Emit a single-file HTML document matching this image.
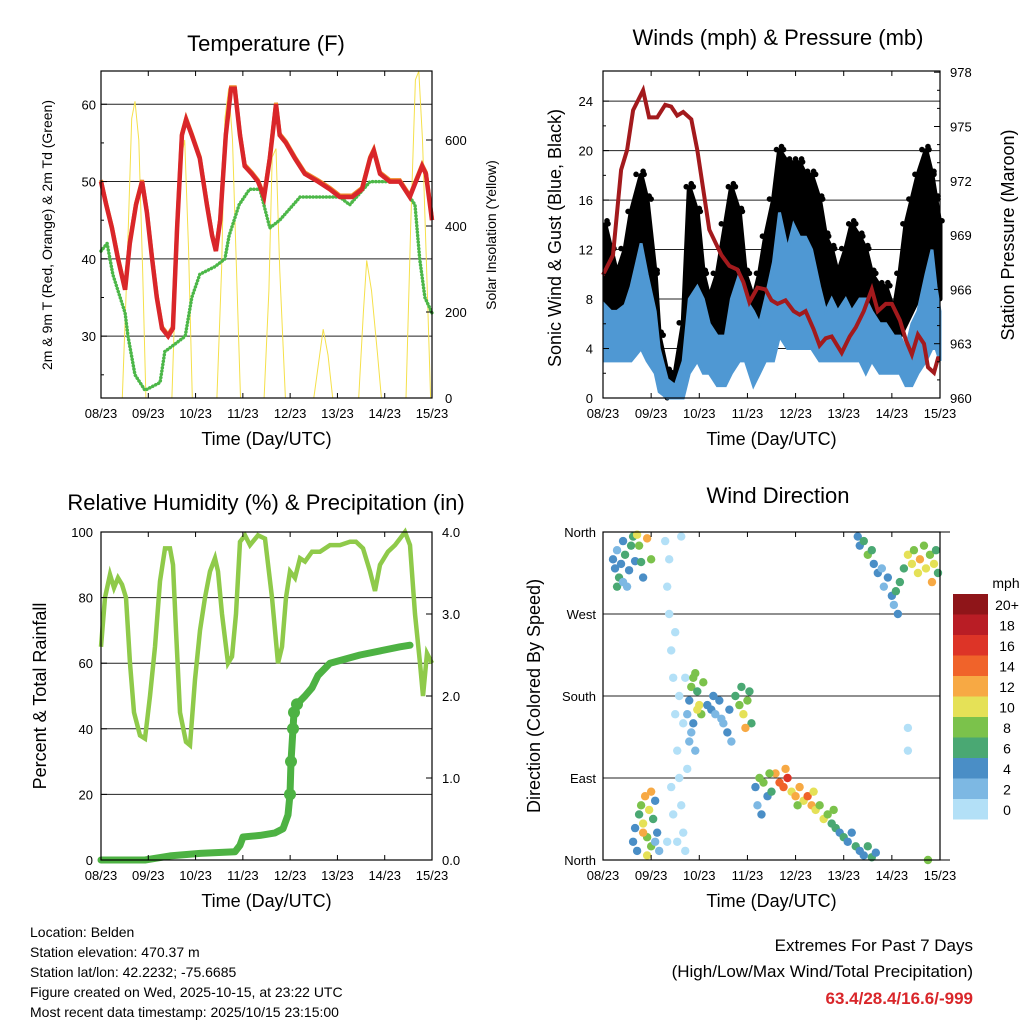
<!DOCTYPE html>
<html><head><meta charset="utf-8"><style>
body{margin:0;background:#fff;width:1024px;height:1024px;overflow:hidden;font-family:"Liberation Sans",sans-serif}
svg text{font-family:"Liberation Sans",sans-serif}
</style></head><body>
<svg id="c" width="1024" height="1024" xmlns="http://www.w3.org/2000/svg"></svg>
<script>
// ---- Temperature data (days since 08/23, value) ----
const tDays=[0,.11,.23,.36,.51,.61,.74,.87,.97,1.08,1.18,1.29,1.42,1.52,1.61,1.71,1.8,1.92,2.09,2.24,2.35,2.43,2.52,2.64,2.75,2.83,2.94,3.04,3.19,3.32,3.45,3.57,3.7,3.78,3.91,4.1,4.31,4.59,4.84,5.05,5.31,5.52,5.69,5.77,5.9,6.11,6.32,6.53,6.66,6.79,6.87,7];
const tempRed=[50,47,44,40,36,42,47,50,46,40,35,31,30,31,44,56,58,56,53,47,43,41,45,56,62,62,56,52,51,50,48,53,60,56,55,53,51,50,49,48,48,49,53,54,51,50,50,48,50,52,51,45];
const tdDays=[0,.13,.25,.51,.57,.72,.93,1.25,1.35,1.57,1.78,1.92,2.09,2.41,2.62,2.71,2.92,3.14,3.36,3.57,3.78,4.21,4.63,5.05,5.26,5.69,6.32,6.53,6.64,6.74,6.85,7];
const tempTd=[41,42,38,33,30,25,23,24,28,29,30,35,38,39,40,43,47,49,49,44,45,48,48,48,47,50,50,48,47,40,35,33];
const solarDays=[0,.45,.55,.65,.72,.8,.88,.95,1.5,1.6,1.7,1.77,1.85,1.93,2.45,2.55,2.62,2.7,2.78,2.85,2.95,3.45,3.55,3.62,3.7,3.78,3.9,4.5,4.6,4.7,4.8,4.9,5.45,5.55,5.62,5.72,5.85,5.93,6.45,6.55,6.65,6.72,6.8,6.9,6.97,7];
const solarVals=[0,0,300,650,690,600,300,0,0,350,560,600,350,0,0,300,650,720,600,350,0,0,250,560,580,300,0,0,80,160,100,0,0,200,320,250,100,0,0,400,740,760,600,250,0,0];
const tempTicks=[30,40,50,60];
const solarTicks=[0,200,400,600];
const dayLabels=["08/23","09/23","10/23","11/23","12/23","13/23","14/23","15/23"];
// ---- Winds (hours) ----
const windHours=[1,4,7,11,14,19,22,26,28,32,36,40,43,47,50,53,57,61,64,68,71,75,78,81,85,88,92,95,98,101,104,108,111,114,117,121,124,128,131,134,138,141,145,148,151,154,157,161,164,166,168];
const sonicLow=[3,3,3,3,3,4,3,2,.5,0,0,0,2,3,2,2,1,1,2,3,3,1,2,3,3,5,4,4,4,4,4,3,3,3,3,3,3,3,2,3,2,2,2,2,1,1,2,3,4,4,3];
const sonicHigh=[7.5,7,7,7.5,9,12.5,10,7,4,1.5,1,3,8,9,8,6,5,5,8,10,8,7,6,8,11,15,12,14,13,13,12,9,7,8,7,8,7,8,8,7,6,6,5,5,4,6,7,10,12,9,7];
const gustLow=[6,5,5,6,7,9,7,4,1,0,1,2,6,5,4,3,4,5,6,5,4,3,4,5,7,9,9,9,9,8,8,8,7,6,5,6,6,7,5,5,4,3,4,5,6,7,8,9,8,8,8];
const gustHigh=[14,12,10,12,15,18,16,10,5,2,2,6,17,15,10,8,10,14,17,15,10,8,10,13,16,20,19,19,19,18,18,16,13,12,10,12,14,13,12,10,9,9,7,10,14,16,18,20,18,16,14];
const presHours=[5,9,12,15,20,23,27,31,34,37,40,44,47,50,53,59,63,67,70,73,77,81,84,87,91,95,98,101,105,108,111,114,119,123,126,130,134,137,141,144,148,151,154,157,160,162,165,167,168];
const pressure=[967.9,972.6,973.7,975.9,977,975.5,975.5,976.2,976.1,975.6,975.8,975.4,973.7,971.5,969.3,967.9,967.3,967.1,966.4,965.3,966.1,966,965.4,965.2,965.4,964.8,964.6,964.8,963.8,962.9,963.3,963.4,962.5,963.4,963.9,964.8,966,964.8,965.2,965.2,964.3,963.2,962.4,963.5,963,961.7,961.4,962.2,962.2];
const windTicks=[0,4,8,12,16,20,24];
const presTicks=[960,963,966,969,972,975,978];
// ---- RH / precip ----
const rhX=[101,105,110,114,118,122,126,130,134,140,145,150,155,160,165,170,173,176,180,186,190,195,200,205,210,215,218,222,228,232,236,240,245,250,258,265,272,278,282,286,290,295,300,305,312,320,330,340,350,356,363,370,375,380,388,395,400,405,410,415,420,423,427,432];
const rhVals=[65,80,87,83,86,84,80,60,45,38,37,50,65,85,95,95,90,70,45,36,35,55,70,80,88,92,88,75,60,62,75,97,99,96,99,98,80,60,65,80,88,86,92,91,94,94,96,96,97,97,95,88,82,90,94,96,98,100,96,75,60,50,63,60];
const precipX=[101,120,145,170,200,235,240,243,260,275,283,288,290,291,293,294,297,305,312,318,330,345,360,380,400,410];
const precipVals=[0,0,0,.05,.08,.1,.18,.28,.3,.33,.38,.55,.8,1.2,1.6,1.8,1.9,2.0,2.1,2.25,2.4,2.45,2.5,2.55,2.6,2.62];
const rhTicks=[0,20,40,60,80,100];
const precipTicks=["0.0","1.0","2.0","3.0","4.0"];
// ---- Wind direction ----
const dirHours=[5,6,7,8,9,10,11,12,13,14,15,16,7,10,17,18,19,20,22,24,
15,16,17,18,19,20,21,22,23,24,25,26,27,28,22,24,20,26,
31,32,33,34,35,36,37,38,39,40,41,32,35,38,40,42,33,36,39,41,34,37,43,42,
43,44,45,46,47,48,49,50,45,47,44,46,
52,54,56,58,60,62,64,55,59,63,
66,68,70,72,74,69,71,73,
76,78,80,82,84,86,88,90,92,94,96,98,100,102,104,106,108,110,112,114,116,118,120,122,124,126,128,130,132,134,136,77,79,83,91,97,105,115,
127,128,130,132,134,135,137,139,140,142,144,145,146,148,147,
150,152,154,155,157,158,160,161,163,165,166,167,164,152,152,162];
const dirDeg=[330,320,340,310,325,350,335,300,318,345,355,328,300,305,357,345,327,310,353,330,
20,35,10,50,60,40,70,25,55,15,45,65,30,10,5,75,30,20,
350,300,270,230,200,160,120,90,60,30,10,20,50,180,150,100,330,250,355,200,80,20,130,160,
175,190,200,205,185,170,160,195,150,165,140,120,
170,165,160,175,150,140,130,180,155,165,
180,170,160,175,150,190,145,185,
80,90,85,70,75,95,85,80,90,75,70,80,65,70,60,55,60,45,50,40,35,30,25,20,30,15,10,5,15,3,8,60,50,95,100,60,75,55,
355,345,350,335,340,325,315,320,300,310,290,280,295,305,270,
320,335,325,340,315,330,345,320,335,325,340,315,305,145,120,0];
const dirSpeed=[4,5,3,6,4,5,7,3,4,6,7,5,6,3,11,8,6,4,12,8,
4,5,4,7,9,11,12,9,10,8,6,5,4,3,10,13,12,3,
1,1,0,1,1,0,1,1,0,1,1,0,1,1,0,1,1,0,1,1,1,0,2,2,
5,8,9,8,7,10,9,8,4,11,3,3,
4,5,3,4,3,4,3,5,2,4,
7,9,10,8,7,6,12,6,
5,8,9,4,7,12,15,14,16,11,13,12,10,15,12,10,9,11,8,6,7,5,6,4,5,6,4,5,7,6,5,3,4,9,13,9,10,9,
4,5,7,8,6,5,4,3,2,4,5,3,6,7,4,
7,10,11,9,10,12,8,11,9,10,7,6,13,1,1,8];
const dirTicks=["North","East","South","West","North"];
const speedLabels=["20+","18","16","14","12","10","8","6","4","2","0"];
const speedColors=["#8f1519","#b91d25","#dd3427","#f0632a","#f7a944","#e5e157","#7bc24b","#4aa873","#4a8ec6","#7db8e3","#b3e0f7"];

const svg=document.getElementById('c');
const NS='http://www.w3.org/2000/svg';
function mk(tag,attrs,parent){const e=document.createElementNS(NS,tag);for(const k in attrs)e.setAttribute(k,attrs[k]);(parent||svg).appendChild(e);return e;}
function txt(s,x,y,size,anchor,parent,extra){const t=mk('text',Object.assign({x:x,y:y,'font-size':size,'text-anchor':anchor||'middle',fill:'#000'},extra||{}),parent);t.textContent=s;return t;}
function pts(xs,ys,fx,fy){return xs.map((v,i)=>fx(v).toFixed(1)+','+fy(ys[i]).toFixed(1)).join(' ');}

function frame(g,L,T,R,B,nameBase){
  const f=mk('rect',{x:L,y:T,width:R-L,height:B-T,fill:'none',stroke:'#000','stroke-width':1.2},g);
  
  
  const ax=mk('g',{},g);
  
  
  for(let i=0;i<8;i++){const x=L+(R-L)*i/7;
    mk('line',{x1:x,y1:B,x2:x,y2:B-5,stroke:'#000'},ax);mk('line',{x1:x,y1:T,x2:x,y2:T+5,stroke:'#000'},ax);
    const t=txt(dayLabels[i],x,B+20,13,'middle',ax);
    
    }
  const xt=txt('Time (Day/UTC)',(L+R)/2,B+47,18,'middle',g);
  
  
}
function grid(g,L,R,y){mk('line',{x1:L,y1:y,x2:R,y2:y,stroke:'#222','stroke-width':1},g);}

// ===== Panel 1: Temperature =====
{const L=101,R=432,T=71,B=398;
 const g=mk('g',{});
 
 
 const fx=d=>L+(R-L)*d/7, fy=v=>B-(v-22)*7.73, fs=v=>B-v*0.43;
 tempTicks.forEach(v=>{grid(g,L,R,fy(v));});
 const s=mk('polyline',{points:pts(solarDays,solarVals,fx,fs),fill:'none',stroke:'#f5e04a','stroke-width':1},g);
 
 
 const td=mk('polyline',{points:pts(tdDays,tempTd,fx,fy),fill:'none',stroke:'#4cb748','stroke-width':3.5,'stroke-dasharray':'0.1 3.2','stroke-linecap':'round'},g);
 
 
 const o=mk('polyline',{points:pts(tDays,tempRed,fx,v=>fy(v)-1.5),fill:'none',stroke:'#f08a2a','stroke-width':4},g);
 
 
 const r=mk('polyline',{points:pts(tDays,tempRed,fx,fy),fill:'none',stroke:'#d9262a','stroke-width':4.5},g);
 
 
 frame(g,L,T,R,B,'temperature');
 tempTicks.forEach(v=>{const y=fy(v);mk('line',{x1:L,y1:y,x2:L+6,y2:y,stroke:'#000'},g);
   const t=txt(String(v),L-5,y+5,13,'end',g);
   
   });
 for(let v=25;v<=60;v+=5){if(v%10)mk('line',{x1:L,y1:fy(v),x2:L+3,y2:fy(v),stroke:'#000'},g);}
 solarTicks.forEach(v=>{const y=fs(v);mk('line',{x1:R,y1:y,x2:R-6,y2:y,stroke:'#000'},g);
   const t=txt(String(v),R+13,y+5,13,'start',g);
   
   });
 const ti=txt('Temperature (F)',266,51,22,'middle',g);
 
 
 const yl=txt('2m & 9m T (Red, Orange) & 2m Td (Green)',0,0,14,'middle',g,{transform:'translate(52,235) rotate(-90)'});
 
 
 const yr=txt('Solar Insolation (Yellow)',0,0,14,'middle',g,{transform:'translate(496,235) rotate(-90)'});
 
 
}
// ===== Panel 2: Winds =====
{const L=603,R=940,T=71,B=398;
 const g=mk('g',{});
 
 
 const fx=h=>L+(R-L)*h/168, fy=v=>B-v*12.37, fp=p=>B-(p-960)*18.1;
 windTicks.forEach(v=>{if(v>0)grid(g,L,R,fy(v));});
 const gp=windHours.map((h,i)=>fx(h).toFixed(1)+','+fy(gustHigh[i]).toFixed(1)).concat(windHours.map((h,i)=>fx(h).toFixed(1)+','+fy(gustLow[i]).toFixed(1)).reverse()).join(' ');
 const gust=mk('polygon',{points:gp,fill:'#000',stroke:'#000','stroke-width':5,'stroke-linejoin':'round'},g);
 
 
 windHours.forEach((h,i)=>{
   const d=mk('circle',{cx:fx(h)+2,cy:fy(gustHigh[i])-4,r:2.8,fill:'#000'},g);
   
   
   if(i<windHours.length-1){
     const d2=mk('circle',{cx:(fx(h)+fx(windHours[i+1]))/2,cy:fy(Math.max(gustHigh[i],gustHigh[i+1]))-1,r:2.8,fill:'#000'},g);
     
     }
 });
 const sp=windHours.map((h,i)=>fx(h).toFixed(1)+','+fy(sonicHigh[i]).toFixed(1)).concat(windHours.map((h,i)=>fx(h).toFixed(1)+','+fy(sonicLow[i]).toFixed(1)).reverse()).join(' ');
 const son=mk('polygon',{points:sp,fill:'#4f98d3',stroke:'#4f98d3','stroke-width':3},g);
 
 
 const pr=mk('polyline',{points:pts([0].concat(presHours),[966.8].concat(pressure),fx,fp),fill:'none',stroke:'#a31a1d','stroke-width':4},g);
 
 
 frame(g,L,T,R,B,'winds');
 windTicks.forEach(v=>{const y=fy(v);mk('line',{x1:L,y1:y,x2:L+6,y2:y,stroke:'#000'},g);
   const t=txt(String(v),L-10,y+5,13,'end',g);
   
   });
 for(let v=2;v<26;v+=4)mk('line',{x1:L,y1:fy(v),x2:L+3,y2:fy(v),stroke:'#000'},g);
 presTicks.forEach(v=>{const y=fp(v);mk('line',{x1:R,y1:y,x2:R-6,y2:y,stroke:'#000'},g);
   const t=txt(String(v),R+10,y+5,13,'start',g);
   
   });
 for(let v=961;v<978;v++)if(v%3)mk('line',{x1:R,y1:fp(v),x2:R-3,y2:fp(v),stroke:'#000'},g);
 const ti=txt('Winds (mph) & Pressure (mb)',778,45,22,'middle',g);
 
 
 const yl=txt('Sonic Wind & Gust (Blue, Black)',0,0,18,'middle',g,{transform:'translate(561,238) rotate(-90)'});
 
 
 const yr=txt('Station Pressure (Maroon)',0,0,18,'middle',g,{transform:'translate(1014,235) rotate(-90)'});
 
 
}
// ===== Panel 3: RH & Precip =====
{const L=101,R=432,T=532,B=860;
 const g=mk('g',{});
 
 
 const fy=v=>B-v*3.28, fp=p=>B-p*82, fx=x=>x;
 rhTicks.forEach(v=>{if(v>0&&v<100)grid(g,L,R,fy(v));});
 const rh=mk('polyline',{points:pts(rhX,rhVals,fx,fy),fill:'none',stroke:'#8fca4a','stroke-width':4.5},g);
 
 
 const pl=mk('polyline',{points:pts(precipX,precipVals,fx,fp),fill:'none',stroke:'#4db243','stroke-width':7,'stroke-linejoin':'round','stroke-linecap':'round'},g);
 
 
 precipX.forEach((x,i)=>{if(i>=12&&i<=16){const c=mk('circle',{cx:x,cy:fp(precipVals[i]),r:6,fill:'#4db243'},g);
   
   }});
 frame(g,L,T,R,B,'humidity');
 rhTicks.forEach(v=>{const y=fy(v);mk('line',{x1:L,y1:y,x2:L+6,y2:y,stroke:'#000'},g);
   const t=txt(String(v),L-8,y+5,13,'end',g);
   
   });
 precipTicks.forEach(v=>{const y=fp(parseFloat(v));mk('line',{x1:R,y1:y,x2:R-6,y2:y,stroke:'#000'},g);
   const t=txt(v,R+10,y+5,13,'start',g);
   
   });
 const ti=txt('Relative Humidity (%) & Precipitation (in)',266,510,22,'middle',g);
 
 
 const yl=txt('Percent & Total Rainfall',0,0,18,'middle',g,{transform:'translate(46,696) rotate(-90)'});
 
 
}
// ===== Panel 4: Wind direction =====
{const L=603,R=940,T=532,B=860;
 const g=mk('g',{});
 
 
 const fx=h=>L+(R-L)*h/168, fy=d=>B-d*(B-T)/360;
 [90,180,270].forEach(d=>grid(g,L,R,fy(d)));
 dirHours.forEach((h,i)=>{const s=dirSpeed[i];const bin=Math.min(10,Math.floor(s/2));
   const c=mk('circle',{cx:fx(h),cy:fy(dirDeg[i]),r:4.2,fill:speedColors[10-bin]},g);
   
   });
 frame(g,L,T,R,B,'direction');
 dirTicks.forEach((s,i)=>{const y=fy(i*90);
   const t=txt(s,L-7,y+5,13,'end',g);
   
   });
 mk('line',{x1:L,y1:B,x2:R+10,y2:B,stroke:'#000'},g);mk('line',{x1:L,y1:T,x2:R+10,y2:T,stroke:'#000'},g);
 const ti=txt('Wind Direction',778,503,22,'middle',g);
 
 
 const yl=txt('Direction (Colored By Speed)',0,0,18,'middle',g,{transform:'translate(540,696) rotate(-90)'});
 
 
 const lg=mk('g',{},g);
 
 
 const lt=txt('mph',1006,588,14,'middle',lg);
 
 
 speedColors.forEach((c,i)=>{const y=594+i*20.5;
   const r=mk('rect',{x:953,y:y,width:35,height:20.5,fill:c},lg);
   
   
   const t=txt(speedLabels[i],1007,y+16,14,'middle',lg);
   
   });
}
// ===== Footer text =====
{const g=mk('g',{});
 
 
 ["Location: Belden","Station elevation: 470.37 m","Station lat/lon: 42.2232; -75.6685","Figure created on Wed, 2025-10-15, at 23:22 UTC","Most recent data timestamp: 2025/10/15 23:15:00"].forEach((s,i)=>{
   const t=txt(s,30,937+i*20,14,'start',g);
   
   });
 const e=mk('g',{});
 
 
 const a=txt('Extremes For Past 7 Days',973,951,17,'end',e);
 
 
 const b=txt('(High/Low/Max Wind/Total Precipitation)',973,977,17,'end',e);
 
 
 const c=txt('63.4/28.4/16.6/-999',973,1004,17,'end',e,{fill:'#d9262a','font-weight':'bold'});
 
 
}
</script>
</body></html>
